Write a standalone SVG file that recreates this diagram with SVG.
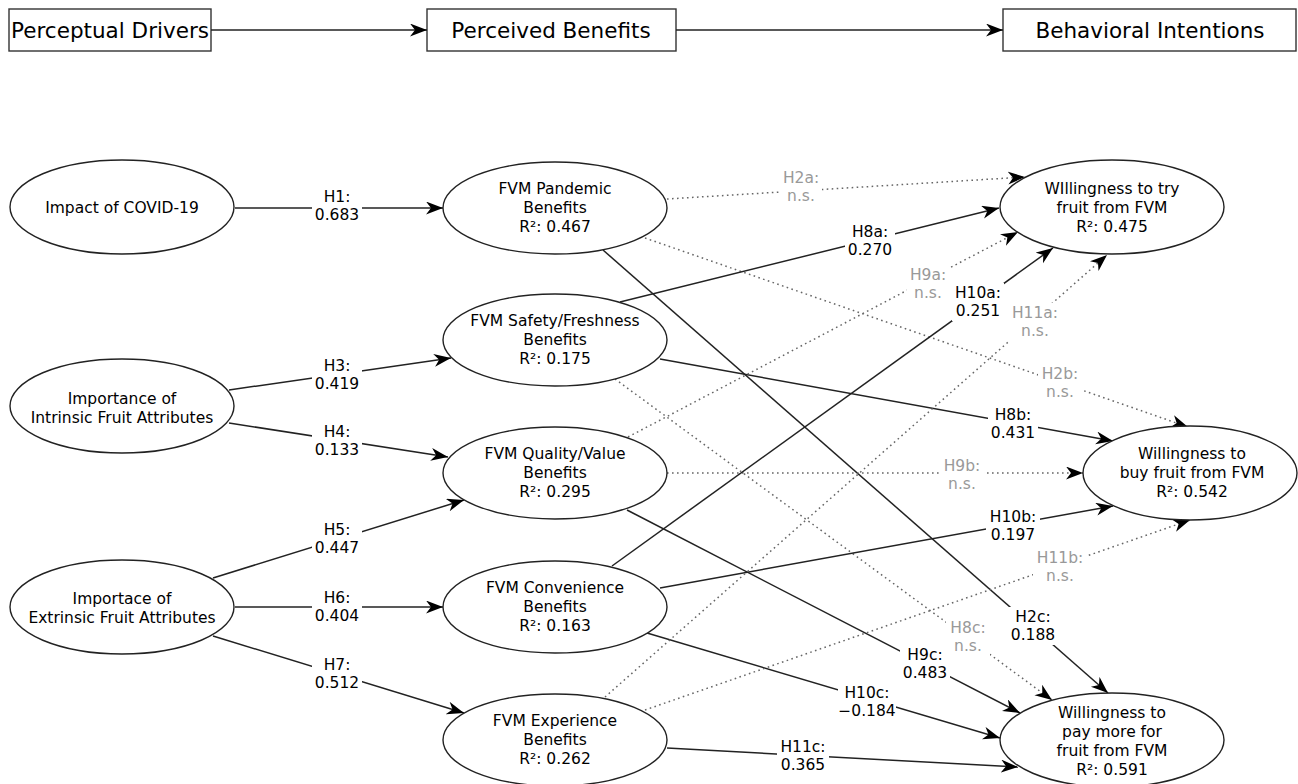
<svg xmlns="http://www.w3.org/2000/svg" width="1298" height="784" viewBox="0 0 1298 784">
<style>
  .hdr rect{fill:#fff;stroke:#333;stroke-width:1.4}
  .hdr text{font-family:"DejaVu Sans",sans-serif;font-size:21.5px;fill:#000;text-anchor:middle}
  .node ellipse{fill:#fff;stroke:#222;stroke-width:1.4}
  .node text{font-family:"DejaVu Sans",sans-serif;font-size:15.5px;fill:#000;text-anchor:middle}
  .e{stroke:#222;stroke-width:1.5;fill:none;marker-end:url(#ah)}
  .d{stroke:#666;stroke-width:1.5;fill:none;stroke-dasharray:1.6 3.4;marker-end:url(#ah)}
  .lb rect{fill:#fff}
  .lb text{font-family:"DejaVu Sans",sans-serif;font-size:15.5px;fill:#000;text-anchor:middle}
  .lb.ns text{fill:#999}
</style>
<defs>
  <marker id="ah" markerUnits="userSpaceOnUse" markerWidth="18" markerHeight="14" refX="17" refY="6.5" orient="auto">
    <path d="M0,0 L17,6.5 L0,13 L5,6.5 Z" fill="#000"/>
  </marker>
</defs>
<rect width="1298" height="784" fill="#fff"/>

<g id="header">
  <g id="h-drivers" class="hdr"><rect x="9" y="9" width="202" height="42"/><text x="110" y="38">Perceptual Drivers</text></g>
  <g id="h-benefits" class="hdr"><rect x="427" y="9" width="249" height="42"/><text x="551" y="38">Perceived Benefits</text></g>
  <g id="h-intentions" class="hdr"><rect x="1003" y="9" width="293" height="42"/><text x="1150" y="38">Behavioral Intentions</text></g>
  <line class="e" x1="211" y1="30" x2="427" y2="30"/>
  <line class="e" x1="676" y1="30" x2="1003" y2="30"/>
</g>

<g id="connectors">
  <line class="e" x1="235" y1="208" x2="443" y2="208"/>
  <line class="e" x1="229" y1="390" x2="451" y2="358"/>
  <line class="e" x1="229" y1="423" x2="448" y2="457"/>
  <line class="e" x1="213" y1="578" x2="464" y2="500"/>
  <line class="e" x1="235" y1="607" x2="443" y2="607"/>
  <line class="e" x1="213" y1="636" x2="464" y2="713"/>
  <line class="d" x1="667" y1="199" x2="1025" y2="177"/>
  <line class="d" x1="645" y1="238" x2="1188" y2="427"/>
  <line class="e" x1="603" y1="250" x2="1108" y2="693"/>
  <line class="e" x1="620" y1="302" x2="999" y2="208"/>
  <line class="e" x1="660" y1="359" x2="1113" y2="441"/>
  <line class="d" x1="615" y1="379" x2="1052" y2="700"/>
  <line class="d" x1="628" y1="437" x2="1018" y2="232"/>
  <line class="d" x1="667" y1="473" x2="1083" y2="473"/>
  <line class="e" x1="627" y1="510" x2="1020" y2="713"/>
  <line class="e" x1="612" y1="566" x2="1053" y2="248"/>
  <line class="e" x1="660" y1="588" x2="1113" y2="506"/>
  <line class="e" x1="647" y1="633" x2="1000" y2="738"/>
  <line class="d" x1="605" y1="697" x2="1107" y2="255"/>
  <line class="d" x1="645" y1="710" x2="1190" y2="520"/>
  <line class="e" x1="667" y1="748" x2="1018" y2="767"/>

  <g class="lb"><rect x="312" y="188" width="50" height="38"/><text x="337" y="202">H1:</text><text x="337" y="220">0.683</text></g>
  <g class="lb"><rect x="312" y="356" width="50" height="38"/><text x="337" y="371">H3:</text><text x="337" y="389">0.419</text></g>
  <g class="lb"><rect x="312" y="422" width="50" height="38"/><text x="337" y="437">H4:</text><text x="337" y="455">0.133</text></g>
  <g class="lb"><rect x="312" y="520" width="50" height="38"/><text x="337" y="535">H5:</text><text x="337" y="553">0.447</text></g>
  <g class="lb"><rect x="312" y="588" width="50" height="38"/><text x="337" y="603">H6:</text><text x="337" y="621">0.404</text></g>
  <g class="lb"><rect x="312" y="655" width="50" height="38"/><text x="337" y="670">H7:</text><text x="337" y="688">0.512</text></g>
  <g class="lb ns"><rect x="780" y="169" width="42" height="38"/><text x="801" y="183">H2a:</text><text x="801" y="201">n.s.</text></g>
  <g class="lb"><rect x="845" y="222" width="50" height="38"/><text x="870" y="237">H8a:</text><text x="870" y="255">0.270</text></g>
  <g class="lb ns"><rect x="907" y="265" width="42" height="38"/><text x="928" y="280">H9a:</text><text x="928" y="298">n.s.</text></g>
  <g class="lb"><rect x="952" y="283" width="52" height="38"/><text x="978" y="298">H10a:</text><text x="978" y="316">0.251</text></g>
  <g class="lb ns"><rect x="1009" y="303" width="52" height="38"/><text x="1035" y="318">H11a:</text><text x="1035" y="336">n.s.</text></g>
  <g class="lb ns"><rect x="1038" y="364" width="44" height="38"/><text x="1060" y="379">H2b:</text><text x="1060" y="397">n.s.</text></g>
  <g class="lb"><rect x="988" y="405" width="50" height="38"/><text x="1013" y="420">H8b:</text><text x="1013" y="438">0.431</text></g>
  <g class="lb ns"><rect x="940" y="456" width="44" height="38"/><text x="962" y="471">H9b:</text><text x="962" y="489">n.s.</text></g>
  <g class="lb"><rect x="986" y="507" width="54" height="38"/><text x="1013" y="522">H10b:</text><text x="1013" y="540">0.197</text></g>
  <g class="lb ns"><rect x="1033" y="548" width="54" height="38"/><text x="1060" y="563">H11b:</text><text x="1060" y="581">n.s.</text></g>
  <g class="lb"><rect x="1008" y="607" width="50" height="38"/><text x="1033" y="622">H2c:</text><text x="1033" y="640">0.188</text></g>
  <g class="lb ns"><rect x="946" y="618" width="44" height="38"/><text x="968" y="633">H8c:</text><text x="968" y="651">n.s.</text></g>
  <g class="lb"><rect x="900" y="645" width="50" height="38"/><text x="925" y="660">H9c:</text><text x="925" y="678">0.483</text></g>
  <g class="lb"><rect x="838" y="683" width="58" height="38"/><text x="867" y="698">H10c:</text><text x="867" y="716">−0.184</text></g>
  <g class="lb"><rect x="777" y="737" width="52" height="38"/><text x="803" y="752">H11c:</text><text x="803" y="770">0.365</text></g>
</g>

<g id="n-impact" class="node"><ellipse cx="122" cy="207" rx="112" ry="47"/><text x="122" y="213">Impact of COVID-19</text></g>
<g id="n-intrinsic" class="node"><ellipse cx="122" cy="406" rx="112" ry="47"/><text x="122" y="404">Importance of</text><text x="122" y="423">Intrinsic Fruit Attributes</text></g>
<g id="n-extrinsic" class="node"><ellipse cx="122" cy="607" rx="112" ry="47"/><text x="122" y="604">Importace of</text><text x="122" y="623">Extrinsic Fruit Attributes</text></g>

<g id="n-pandemic" class="node"><ellipse cx="555" cy="208" rx="112" ry="46"/><text x="555" y="194">FVM Pandemic</text><text x="555" y="213">Benefits</text><text x="555" y="232">R²: 0.467</text></g>
<g id="n-safety" class="node"><ellipse cx="555" cy="340" rx="112" ry="46"/><text x="555" y="326">FVM Safety/Freshness</text><text x="555" y="345">Benefits</text><text x="555" y="364">R²: 0.175</text></g>
<g id="n-quality" class="node"><ellipse cx="555" cy="473" rx="112" ry="46"/><text x="555" y="459">FVM Quality/Value</text><text x="555" y="478">Benefits</text><text x="555" y="497">R²: 0.295</text></g>
<g id="n-convenience" class="node"><ellipse cx="555" cy="607" rx="112" ry="46"/><text x="555" y="593">FVM Convenience</text><text x="555" y="612">Benefits</text><text x="555" y="631">R²: 0.163</text></g>
<g id="n-experience" class="node"><ellipse cx="555" cy="740" rx="112" ry="46"/><text x="555" y="726">FVM Experience</text><text x="555" y="745">Benefits</text><text x="555" y="764">R²: 0.262</text></g>

<g id="n-try" class="node"><ellipse cx="1112" cy="207" rx="112" ry="47"/><text x="1112" y="194">WIllingness to try</text><text x="1112" y="213">fruit from FVM</text><text x="1112" y="232">R²: 0.475</text></g>
<g id="n-buy" class="node"><ellipse cx="1190" cy="473" rx="107" ry="47"/><text x="1192" y="459">Willingness to</text><text x="1192" y="478">buy fruit from FVM</text><text x="1192" y="497">R²: 0.542</text></g>
<g id="n-paymore" class="node"><ellipse cx="1112" cy="740" rx="112" ry="47"/><text x="1112" y="718">Willingness to</text><text x="1112" y="737">pay more for</text><text x="1112" y="756">fruit from FVM</text><text x="1112" y="775">R²: 0.591</text></g>
</svg>
